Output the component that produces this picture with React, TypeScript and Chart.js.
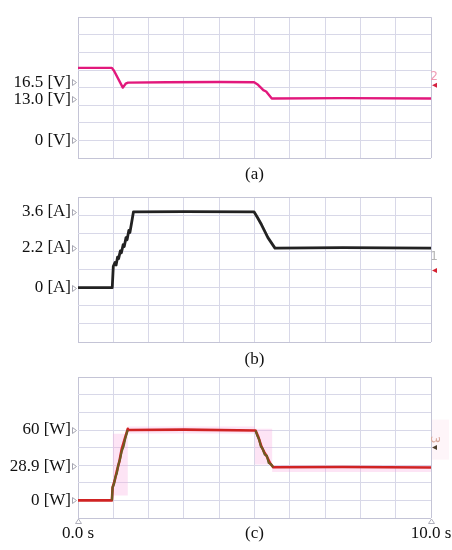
import React, { useEffect, useRef } from 'react';
import { Chart, registerables } from 'chart.js';

Chart.register(...registerables);

const FONT = "'Liberation Serif', 'Times New Roman', serif";

// ---- time axis (seconds) ----
const timeTicks = [0, 1, 2, 3, 4, 5, 6, 7, 8, 9, 10];

// ---- (a) voltage [V] ----
const tVolt = [0, 0.96, 1.02, 1.27, 1.35, 1.42, 2.5, 4.0, 4.99, 5.1, 5.18, 5.25, 5.33, 5.49, 7.5, 10];
const volt = [20.6, 20.6, 19.8, 15.0, 16.1, 16.4, 16.5, 16.6, 16.5, 15.8, 15.0, 14.3, 13.9, 11.9, 12.0, 11.9];
// scope markers sit on the steady-state levels of the trace
const voltLevels = [16.5, 11.7, 0];
const voltLabels = ['16.5 [V]', '13.0 [V]', '0 [V]'];

// ---- (b) current [A] ----
const tCurr = [0, 0.97, 1.0, 1.05, 1.08, 1.12, 1.15, 1.2, 1.23, 1.28, 1.31, 1.36, 1.39, 1.44, 1.47, 1.52, 1.57, 3.0, 4.99, 5.08, 5.2, 5.38, 5.58, 7.5, 10];
const curr = [0, 0, 1.02, 1.2, 1.08, 1.45, 1.38, 1.75, 1.66, 2.05, 1.96, 2.38, 2.28, 2.72, 2.62, 3.1, 3.6, 3.61, 3.6, 3.35, 2.99, 2.38, 1.88, 1.9, 1.88];
const currLevels = [3.6, 1.9, 0];
const currLabels = ['3.6 [A]', '2.2 [A]', '0 [A]'];

// ---- (c) power [W] ----
const tPow = [0, 0.96, 0.98, 1.04, 1.1, 1.17, 1.24, 1.32, 1.41, 1.43, 3.0, 5.03, 5.11, 5.2, 5.28, 5.35, 5.44, 5.53, 7.5, 10];
const pow = [0, 0, 11, 17, 25, 33, 44, 52, 61, 60, 60.3, 59.6, 54, 45.7, 41, 37.4, 31.8, 28.3, 28.5, 28];
const tPowRamp = [0.96, 0.98, 1.02, 1.06, 1.1, 1.14, 1.19, 1.24, 1.29, 1.34, 1.41, 1.42, 5.03, 5.08, 5.13, 5.18, 5.23, 5.29, 5.35, 5.4, 5.46, 5.53];
const powRamp = [0, 11, 14, 20, 23, 30, 35, 42, 46, 53, 60, null, 59.6, 55, 52, 46, 44, 39, 38, 32, 31, 28.3];
const tBand = [0.98, 1.41, 5.01, 5.5, 10];
const bandUpper = [56.8, 63, 61, 29.8, 29.8];
const bandLower = [4.2, 57, 30.5, 24.2, 24.2];
const powLevels = [60, 28.9, 0];
const powLabels = ['60 [W]', '28.9 [W]', '0 [W]'];

// channel reference markers at right edge
const markerValues = [15.7, 0.82, 45];
const markerTexts = ['2', '1', '3'];

const xy = (t: number[], v: (number | null)[]) => t.map((x, i) => ({ x, y: v[i] }));

type Panel = {
  top: number; height: number; padTop: number; plotBottom: number;
  yMin: number; yMax: number; levels: number[]; labels: string[];
  caption: string; showTime: boolean; captionPad: number; datasets: any[];
  marker: { value: number; text: string; textColor: string; triColor: string; rotate: boolean; textDy: number; bg?: boolean };
};

const line = (data: any[], color: string, width: number) => ({
  data, borderColor: color, borderWidth: width, pointRadius: 0, fill: false, tension: 0, spanGaps: false,
});

const panels: Panel[] = [
  {
    top: 0, height: 190, padTop: 13, plotBottom: 158, yMin: -5, yMax: 35,
    levels: voltLevels, labels: voltLabels, caption: '(a)', showTime: false, captionPad: 6,
    datasets: [line(xy(tVolt, volt), '#e2187c', 2.4)],
    marker: { value: markerValues[0], text: markerTexts[0], textColor: '#f09ab4', triColor: '#d42040', rotate: false, textDy: -8 },
  },
  {
    top: 180, height: 190, padTop: 15, plotBottom: 162, yMin: -2.58, yMax: 4.3,
    levels: currLevels, labels: currLabels, caption: '(b)', showTime: false, captionPad: 7,
    datasets: [line(xy(tCurr, curr), '#222222', 2.8)],
    marker: { value: markerValues[1], text: markerTexts[1], textColor: '#b4b4b4', triColor: '#d42030', rotate: false, textDy: -14 },
  },
  {
    top: 360, height: 190, padTop: 13, plotBottom: 158, yMin: -15, yMax: 105,
    levels: powLevels, labels: powLabels, caption: '(c)', showTime: true, captionPad: 5,
    datasets: [
      line(xy(tPowRamp, powRamp), '#6e5a22', 2.2),
      line(xy(tPow, pow), '#d02323', 2.6),
      { data: xy(tBand, bandUpper), borderWidth: 0, borderColor: 'rgba(0,0,0,0)', pointRadius: 0, stepped: 'before', fill: '+1', backgroundColor: 'rgba(250,170,225,0.32)' },
      { data: xy(tBand, bandLower), borderWidth: 0, borderColor: 'rgba(0,0,0,0)', pointRadius: 0, stepped: 'before', fill: false },
    ],
    marker: { value: markerValues[2], text: markerTexts[2], textColor: '#d8a89c', triColor: '#4e4030', rotate: true, textDy: -8, bg: true },
  },
];

const GRID = '#d8d8e8';
const EDGE = '#c4c4d6';

function marksPlugin(p: Panel) {
  return {
    id: 'scopeMarks',
    afterDraw(chart: any) {
      const { ctx, chartArea: a, scales } = chart;
      const ys = scales.y;
      ctx.save();
      // left label triangles
      ctx.strokeStyle = '#a4a4b0';
      ctx.lineWidth = 1;
      p.levels.forEach((v) => {
        const py = Math.round(ys.getPixelForValue(v)) + 0.5;
        ctx.beginPath();
        ctx.moveTo(a.left - 5.5, py - 3);
        ctx.lineTo(a.left - 1.5, py);
        ctx.lineTo(a.left - 5.5, py + 3);
        ctx.closePath();
        ctx.stroke();
      });
      // right channel marker
      const my = ys.getPixelForValue(p.marker.value);
      if (p.marker.bg) {
        ctx.fillStyle = 'rgba(252,232,242,0.45)';
        ctx.fillRect(a.right + 1, my - 28, 17, 40);
      }
      ctx.fillStyle = p.marker.triColor;
      ctx.beginPath();
      ctx.moveTo(a.right + 1, my);
      ctx.lineTo(a.right + 6, my - 2.5);
      ctx.lineTo(a.right + 6, my + 2.5);
      ctx.closePath();
      ctx.fill();
      ctx.fillStyle = p.marker.textColor;
      ctx.font = "12px 'DejaVu Sans', sans-serif";
      ctx.textAlign = 'center';
      ctx.textBaseline = 'middle';
      ctx.translate(a.right + 3, my + p.marker.textDy);
      if (p.marker.rotate) ctx.rotate(Math.PI / 2);
      ctx.fillText(p.marker.text, 0, 0);
      ctx.setTransform(1, 0, 0, 1, 0, 0);
      // time-end triangles
      if (p.showTime) {
        const xs = scales.x;
        ctx.strokeStyle = '#b0b0bc';
        [timeTicks[0], timeTicks[timeTicks.length - 1]].forEach((t) => {
          const px = Math.round(xs.getPixelForValue(t)) + 0.5;
          ctx.beginPath();
          ctx.moveTo(px, a.bottom + 1);
          ctx.lineTo(px - 3, a.bottom + 5.5);
          ctx.lineTo(px + 3, a.bottom + 5.5);
          ctx.closePath();
          ctx.stroke();
        });
      }
      ctx.restore();
    },
  };
}

function xLabel(p: Panel, v: number) {
  if (v === 5) return p.caption;
  if (p.showTime && v === 0) return '0.0 s';
  if (p.showTime && v === 10) return '10.0 s';
  return '';
}

function buildConfig(p: Panel): any {
  const div = (p.yMax - p.yMin) / 8;
  const edgeColor = (n: number) => (ctx: any) => (ctx.index === 0 || ctx.index === n ? EDGE : GRID);
  return {
    type: 'line',
    data: { datasets: p.datasets },
    options: {
      responsive: false,
      animation: false,
      devicePixelRatio: 1,
      layout: { autoPadding: false, padding: { top: p.padTop, right: 21, left: 0, bottom: 0 } },
      plugins: { legend: { display: false }, tooltip: { enabled: false } },
      elements: { point: { radius: 0 }, line: { tension: 0, borderJoinStyle: 'round' } },
      scales: {
        x: {
          type: 'linear', min: 0, max: 10,
          afterBuildTicks: (s: any) => { s.ticks = timeTicks.map((v) => ({ value: v })); },
          grid: { color: edgeColor(timeTicks.length - 1), drawTicks: false, lineWidth: 1 },
          border: { display: false },
          ticks: {
            autoSkip: false, maxRotation: 0, minRotation: 0, padding: p.captionPad,
            font: { family: FONT, size: 17 }, color: '#111111',
            callback: (v: number) => xLabel(p, v),
          },
          afterFit: (s: any) => { s.height = p.height - p.plotBottom; s.paddingLeft = 0; s.paddingRight = 0; },
        },
        y: {
          type: 'linear', min: p.yMin, max: p.yMax, position: 'left',
          afterBuildTicks: (s: any) => { s.ticks = Array.from({ length: 9 }, (_, k) => ({ value: p.yMin + k * div })); },
          ticks: { display: false },
          grid: { color: edgeColor(8), drawTicks: false, lineWidth: 1 },
          border: { display: false },
          afterFit: (s: any) => { s.width = 0; },
        },
        yl: {
          type: 'linear', min: p.yMin, max: p.yMax, position: 'left',
          afterBuildTicks: (s: any) => { s.ticks = p.levels.map((v) => ({ value: v })); },
          ticks: {
            padding: 7, font: { family: FONT, size: 17 }, color: '#111111',
            callback: (_v: number, i: number) => p.labels[i],
          },
          grid: { display: false, drawTicks: false },
          border: { display: false },
          afterFit: (s: any) => { s.width = 78; },
        },
      },
    },
    plugins: [marksPlugin(p)],
  };
}

export default function App() {
  const r0 = useRef<HTMLCanvasElement>(null);
  const r1 = useRef<HTMLCanvasElement>(null);
  const r2 = useRef<HTMLCanvasElement>(null);
  const refs = [r0, r1, r2];
  useEffect(() => {
    const charts = panels.map((p, i) => new Chart(refs[i].current as HTMLCanvasElement, buildConfig(p)));
    return () => charts.forEach((c) => c.destroy());
  }, []);
  return (
    <div style={{ position: 'absolute', left: 0, top: 0, width: 452, height: 550, background: '#ffffff', overflow: 'hidden' }}>
      {panels.map((p, i) => (
        <canvas
          key={i}
          ref={refs[i]}
          width={452}
          height={p.height}
          style={{ position: 'absolute', left: 0, top: p.top, width: 452, height: p.height }}
        />
      ))}
    </div>
  );
}
